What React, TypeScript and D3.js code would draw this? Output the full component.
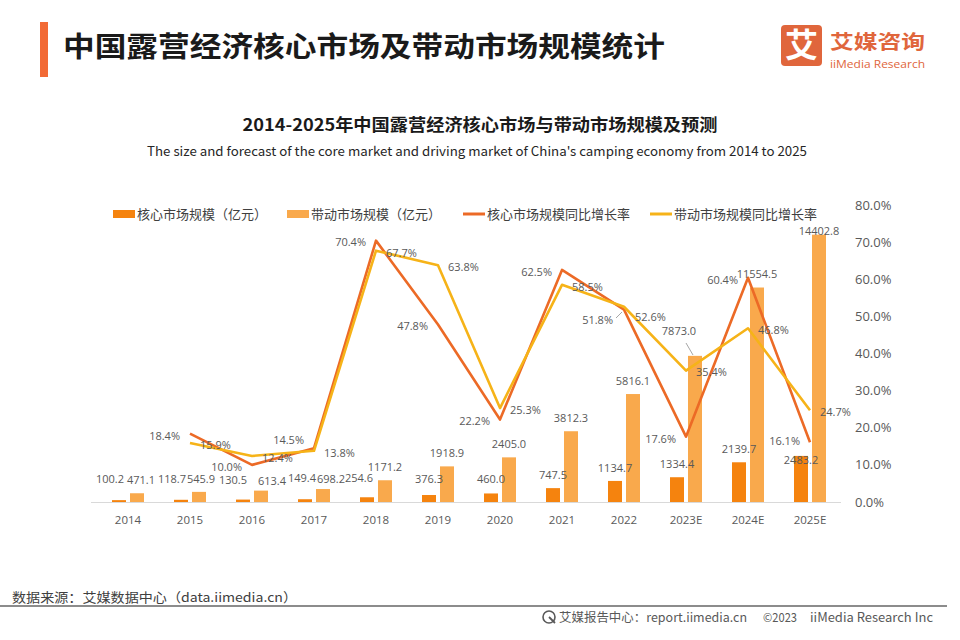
import React from "react";
import * as d3 from "d3";

const categories = ["2014", "2015", "2016", "2017", "2018", "2019", "2020", "2021", "2022", "2023E", "2024E", "2025E"];
const coreSize = [100.2, 118.7, 130.5, 149.4, 254.6, 376.3, 460.0, 747.5, 1134.7, 1334.4, 2139.7, 2483.2];
const driveSize = [471.1, 545.9, 613.4, 698.2, 1171.2, 1918.9, 2405.0, 3812.3, 5816.1, 7873.0, 11554.5, 14402.8];
// growth rates start at 2015 (2014 has none)
const coreGrowth: (number | null)[] = [null, 18.4, 10.0, 14.5, 70.4, 47.8, 22.2, 62.5, 51.8, 17.6, 60.4, 16.1];
const driveGrowth: (number | null)[] = [null, 15.9, 12.4, 13.8, 67.7, 63.8, 25.3, 58.5, 52.6, 35.4, 46.8, 24.7];
const rightTicks = [0, 10, 20, 30, 40, 50, 60, 70, 80];
const legendItems = ["核心市场规模（亿元）", "带动市场规模（亿元）", "核心市场规模同比增长率", "带动市场规模同比增长率"];

// label nudges (layout only)
const coreBarNudge: Record<number, [number, number]> = { 0: [-9, -8], 1: [-9, -8], 2: [-10, -6], 3: [-3, -8], 4: [-8, -6], 5: [0, -3], 6: [0, -1], 11: [0, 17] };
const driveBarNudge: Record<number, [number, number]> = { 0: [4, 0], 1: [2, 0], 2: [11, 4], 3: [8, 3], 9: [-16, -12], 11: [0, 10] };
const coreLineNudge: Record<number, [number, number]> = { 3: [0, -10], 8: [-1, 8], 11: [0, -3] };
const driveLineNudge: Record<number, [number, number]> = { 8: [1, 8] };

const COL_CORE_BAR = "#F5830E";
const COL_DRIVE_BAR = "#F9A94C";
const COL_CORE_LINE = "#EC6A26";
const COL_DRIVE_LINE = "#F6B318";
const LABEL = "#595959";
const CJK = "'Noto Sans CJK SC', 'Noto Sans', sans-serif";
const NUM = "'Open Sans', 'Noto Sans', sans-serif";

export default function App() {
  const W = 960, H = 640;
  const left = 97, right = 841, top = 205, bottom = 502;
  const x = d3.scaleBand<string>().domain(categories).range([left, right]).paddingInner(0).paddingOuter(0);
  const xs = d3.scaleBand<string>().domain(["core", "drive"]).range([-16, 16]).paddingInner(0.222).paddingOuter(0);
  const yBar = d3.scaleLinear().domain([0, 16000]).range([bottom, top]);
  const yPct = d3.scaleLinear().domain([0, 80]).range([bottom, top]);
  const cx = (c: string) => (x(c) as number) + x.bandwidth() / 2;

  const lineGen = d3
    .line<number | null>()
    .defined((d) => d !== null)
    .x((_, i) => cx(categories[i]))
    .y((d) => yPct(d as number));

  const fmt1 = d3.format(".1f");

  return (
    <svg width={W} height={H} style={{ display: "block", position: "absolute", left: 0, top: 0, background: "#fff" }}>
      <rect x={0} y={0} width={W} height={H} fill="#fff" />
      {/* header */}
      <rect x={40} y={22} width={8} height={55} fill="#F26A35" />
      <text x={63} y={57} fontFamily={CJK} fontWeight={700} fontSize={28} fill="#1a1a1a" textLength={602} lengthAdjust="spacingAndGlyphs">
        中国露营经济核心市场及带动市场规模统计
      </text>
      {/* logo */}
      <rect x={781} y={25} width={41} height={41} rx={4} fill="#E0663C" />
      <text x={801.5} y={57} textAnchor="middle" fontFamily={CJK} fontWeight={700} fontSize={33} fill="#fff">艾</text>
      <text x={830} y={48.5} fontFamily={CJK} fontWeight={700} fontSize={19.5} fill="#E0663C" textLength={95} lengthAdjust="spacingAndGlyphs">艾媒咨询</text>
      <text x={830} y={67.5} fontFamily={NUM} fontSize={11} fill="#E0663C" textLength={95} lengthAdjust="spacingAndGlyphs">iiMedia Research</text>

      {/* chart titles */}
      <text x={480} y={131} textAnchor="middle" fontFamily={CJK} fontWeight={700} fontSize={16.5} fill="#1a1a1a" textLength={475} lengthAdjust="spacingAndGlyphs">
        2014-2025年中国露营经济核心市场与带动市场规模及预测
      </text>
      <text x={477} y={156} textAnchor="middle" fontFamily={CJK} fontSize={13} fill="#262626" textLength={660} lengthAdjust="spacingAndGlyphs">
        The size and forecast of the core market and driving market of China's camping economy from 2014 to 2025
      </text>

      {/* legend */}
      <g fontFamily={CJK} fontSize={13} fill="#404040">
        <rect x={113} y={210} width={22} height={8} fill={COL_CORE_BAR} />
        <text x={137} y={218.5}>{legendItems[0]}</text>
        <rect x={287} y={210} width={22} height={8} fill={COL_DRIVE_BAR} />
        <text x={311} y={218.5}>{legendItems[1]}</text>
        <line x1={463} x2={485} y1={214} y2={214} stroke={COL_CORE_LINE} strokeWidth={3} />
        <text x={487} y={218.5}>{legendItems[2]}</text>
        <line x1={650} x2={672} y1={214} y2={214} stroke={COL_DRIVE_LINE} strokeWidth={3} />
        <text x={674} y={218.5}>{legendItems[3]}</text>
      </g>

      {/* right axis */}
      <g fontFamily={NUM} fontSize={13} fill={LABEL}>
        {rightTicks.map((t) => (
          <text key={t} x={855} y={yPct(t)} dy="0.35em">{fmt1(t)}%</text>
        ))}
      </g>

      {/* bars */}
      {categories.map((c, i) => (
        <g key={c}>
          <rect x={(x(c) as number) + x.bandwidth() / 2 + (xs("core") as number)} width={xs.bandwidth()} y={yBar(coreSize[i])} height={bottom - yBar(coreSize[i])} fill={COL_CORE_BAR} />
          <rect x={(x(c) as number) + x.bandwidth() / 2 + (xs("drive") as number)} width={xs.bandwidth()} y={yBar(driveSize[i])} height={bottom - yBar(driveSize[i])} fill={COL_DRIVE_BAR} />
        </g>
      ))}

      {/* x axis */}
      <line x1={left - 6} x2={right} y1={bottom + 0.5} y2={bottom + 0.5} stroke="#d9d9d9" strokeWidth={1} />
      <g fontFamily={NUM} fontSize={11.5} fill={LABEL}>
        {categories.map((c) => (
          <text key={c} x={cx(c)} y={520} dy="0.35em" textAnchor="middle">{c}</text>
        ))}
      </g>

      {/* lines */}
      <path d={lineGen(coreGrowth) || ""} fill="none" stroke={COL_CORE_LINE} strokeWidth={2.6} strokeLinejoin="round" />
      <path d={lineGen(driveGrowth) || ""} fill="none" stroke={COL_DRIVE_LINE} strokeWidth={2.6} strokeLinejoin="round" />

      {/* leader lines */}
      <line x1={686} y1={343} x2={693} y2={355} stroke="#a6a6a6" strokeWidth={1} />
      <line x1={616} y1={318} x2={622} y2={312} stroke="#a6a6a6" strokeWidth={1} />

      {/* bar labels */}
      <g fontFamily={NUM} fontSize={11} fill={LABEL} textAnchor="middle">
        {categories.map((c, i) => {
          const cc = cx(c) + (xs("core") as number) + xs.bandwidth() / 2;
          const cd = cx(c) + (xs("drive") as number) + xs.bandwidth() / 2;
          const nc = coreBarNudge[i] || [0, 0];
          const nd = driveBarNudge[i] || [0, 0];
          return (
            <g key={c}>
              <text x={cc + nc[0]} y={yBar(coreSize[i]) - 13 + nc[1]} dy="0.35em">{fmt1(coreSize[i])}</text>
              <text x={cd + nd[0]} y={yBar(driveSize[i]) - 13 + nd[1]} dy="0.35em">{fmt1(driveSize[i])}</text>
            </g>
          );
        })}
      </g>

      {/* line labels */}
      <g fontFamily={NUM} fontSize={11} fill={LABEL}>
        {categories.map((c, i) => {
          const v1 = coreGrowth[i];
          const v2 = driveGrowth[i];
          const n1 = coreLineNudge[i] || [0, 0];
          const n2 = driveLineNudge[i] || [0, 0];
          return (
            <g key={c}>
              {v1 !== null && (
                <text x={cx(c) - 10 + n1[0]} y={yPct(v1) + 2 + n1[1]} dy="0.35em" textAnchor="end">{fmt1(v1)}%</text>
              )}
              {v2 !== null && (
                <text x={cx(c) + 10 + n2[0]} y={yPct(v2) + 2 + n2[1]} dy="0.35em" textAnchor="start">{fmt1(v2)}%</text>
              )}
            </g>
          );
        })}
      </g>

      {/* footer */}
      <text x={12} y={602} fontFamily={CJK} fontSize={13} fill="#404040" textLength={285} lengthAdjust="spacingAndGlyphs">
        数据来源：艾媒数据中心（data.iimedia.cn）
      </text>
      <line x1={0} x2={947} y1={606} y2={606} stroke="#8c8c8c" strokeWidth={2} />
      <g fill="#595959" fontFamily={CJK} fontSize={12.5}>
        <circle cx={549} cy={617} r={6} fill="none" stroke="#595959" strokeWidth={1.6} />
        <path d="M549,617 L555,623" stroke="#595959" strokeWidth={1.8} />
        <text x={559} y={621.5} textLength={188} lengthAdjust="spacingAndGlyphs">艾媒报告中心：report.iimedia.cn</text>
        <text x={763} y={621.5} textLength={34} lengthAdjust="spacingAndGlyphs">©2023</text>
        <text x={810} y={621.5} textLength={123} lengthAdjust="spacingAndGlyphs">iiMedia Research  Inc</text>
      </g>
    </svg>
  );
}
